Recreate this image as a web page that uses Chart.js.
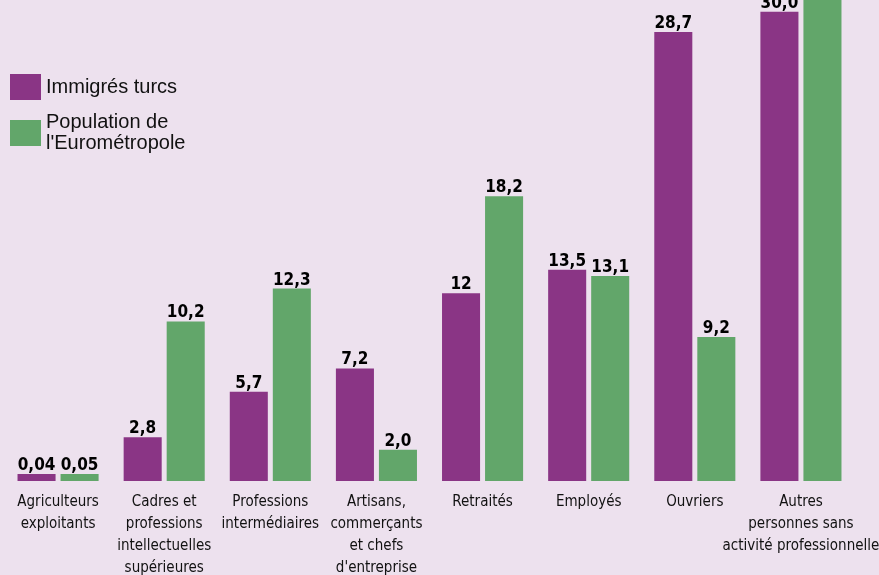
<!DOCTYPE html>
<html>
<head>
<meta charset="utf-8">
<script src="https://cdn.jsdelivr.net/npm/chart.js@4"></script>
<style>
  html, body { margin:0; padding:0; background:#ede1ee; }
  #wrap { width:879px; height:575px; position:relative; }
</style>
</head>
<body>
<div id="wrap"><canvas id="chart" width="879" height="575"></canvas></div>
<script>
const categories = [
  ['Agriculteurs', 'exploitants'],
  ['Cadres et', 'professions', 'intellectuelles', 'supérieures'],
  ['Professions', 'intermédiaires'],
  ['Artisans,', 'commerçants', 'et chefs', "d'entreprise"],
  ['Retraités'],
  ['Employés'],
  ['Ouvriers'],
  ['Autres', 'personnes sans', 'activité professionnelle']
];
const immigres       = [0.04, 2.8, 5.7, 7.2, 12, 13.5, 28.7, 30.0];
const immigresLabels = ['0,04', '2,8', '5,7', '7,2', '12', '13,5', '28,7', '30,0'];
const euro           = [0.05, 10.2, 12.3, 2.0, 18.2, 13.1, 9.2, 33.0];
const euroLabels     = ['0,05', '10,2', '12,3', '2,0', '18,2', '13,1', '9,2', '33,0'];
const legendItems    = [
  { lines:['Immigrés turcs'], color:'#8a3585' },
  { lines:['Population de', "l'Eurométropole"], color:'#62a66a' }
];

const NARROW = '"Liberation Sans Narrow", "DejaVu Sans Condensed", sans-serif';

// étiquettes de valeur au-dessus des barres
const valueLabels = {
  id:'valueLabels',
  afterDatasetsDraw(chart) {
    const ctx = chart.ctx;
    const all = [immigresLabels, euroLabels];
    ctx.save();
    ctx.font = 'bold 17px ' + NARROW;
    ctx.fillStyle = '#000';
    ctx.textAlign = 'center';
    ctx.textBaseline = 'alphabetic';
    chart.data.datasets.forEach((ds, i) => {
      chart.getDatasetMeta(i).data.forEach((el, j) => {
        ctx.fillText(all[i][j], el.x, el.y - 4);
      });
    });
    ctx.restore();
  }
};

// légende à gauche
const sideLegend = {
  id:'sideLegend',
  afterDraw(chart) {
    const ctx = chart.ctx;
    ctx.save();
    ctx.font = '20px "Liberation Sans", sans-serif';
    ctx.textBaseline = 'middle';
    let boxTops = [74, 120];
    let textYs  = [[87], [122, 143]];
    legendItems.forEach((it, i) => {
      ctx.fillStyle = it.color;
      ctx.fillRect(10, boxTops[i], 31, 26);
      ctx.fillStyle = '#111';
      it.lines.forEach((l, k) => ctx.fillText(l, 46, textYs[i][k]));
    });
    ctx.restore();
  }
};

new Chart(document.getElementById('chart').getContext('2d'), {
  type:'bar',
  data:{
    labels: categories,
    datasets:[
      { label:'Immigrés turcs', data:immigres, backgroundColor:'#8a3585',
        categoryPercentage:0.811, barPercentage:0.884, minBarLength:7 },
      { label:"Population de l'Eurométropole", data:euro, backgroundColor:'#62a66a',
        categoryPercentage:0.811, barPercentage:0.884, minBarLength:7 }
    ]
  },
  options:{
    responsive:false,
    animation:false,
    layout:{ padding:{ top:0, left:5, right:25, bottom:0 } },
    plugins:{ legend:{ display:false }, tooltip:{ enabled:false } },
    scales:{
      x:{
        grid:{ display:false, drawTicks:false },
        border:{ display:false },
        ticks:{
          color:'#111',
          padding:10,
          maxRotation:0,
          autoSkip:false,
          font:{ family:NARROW, size:15, lineHeight:22/15 }
        },
        afterFit(s) { s.height = 94; s.paddingLeft = 0; s.paddingRight = 0; }
      },
      y:{ display:false, min:0, max:30.75 }
    }
  },
  plugins:[valueLabels, sideLegend]
});
</script>
</body>
</html>
